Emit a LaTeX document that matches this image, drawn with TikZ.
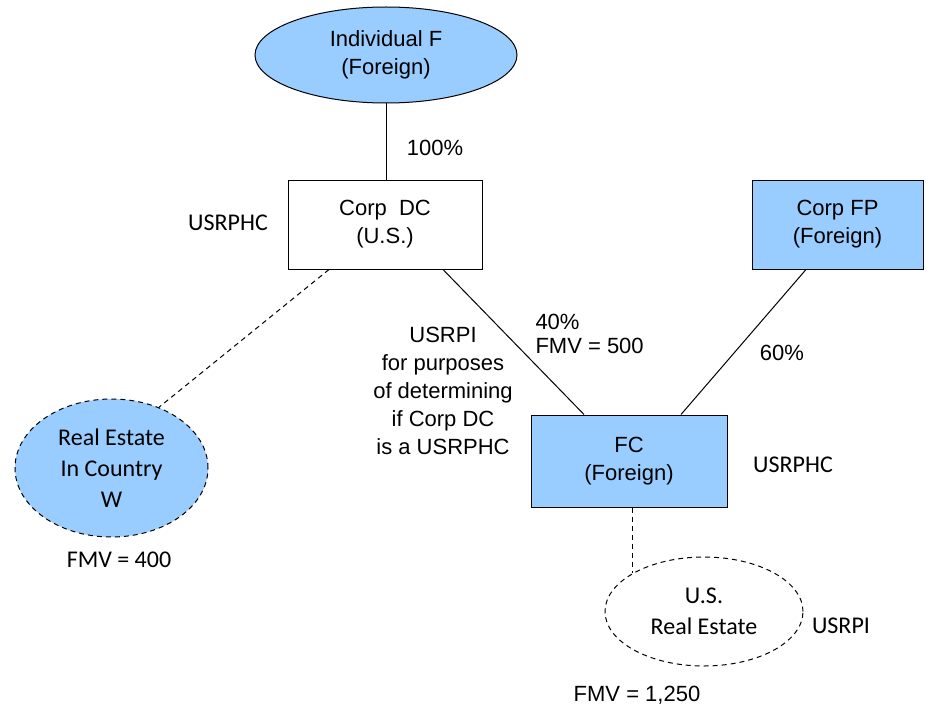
\documentclass[tikz,border=0pt]{standalone}
\usepackage{fontspec}
\setmainfont{Liberation Sans}
\newfontfamily\calibri{Carlito}
\usetikzlibrary{shapes.geometric}
\definecolor{ownblue}{RGB}{153,204,255}

\begin{document}
\begin{tikzpicture}[x=1pt, y=-1pt, line width=1pt, every node/.style={inner sep=0pt},
	font=\fontsize{22}{28}\selectfont,
	entity/.style={draw, rectangle, align=center},
	owner/.style={draw, ellipse, align=center},
	asset/.style={owner, dash pattern=on 5pt off 4pt, font=\calibri\fontsize{24}{31}\selectfont},
	calnote/.style={font=\calibri\fontsize{24}{31}\selectfont},
	holds/.style={dash pattern=on 5pt off 4pt}]
	\useasboundingbox (0,0) rectangle (926,706);
	\node[owner, fill=ownblue, minimum width=262pt, minimum height=96pt] (indf) at (386,55) {Individual F\\(Foreign)};
	\node[entity, minimum width=194pt, minimum height=89pt] (corpdc) at (385,224.5) {Corp\ \ DC\\(U.S.)};
	\node[entity, fill=ownblue, minimum width=171pt, minimum height=89pt] (corpfp) at (837.5,224.5) {Corp FP\\(Foreign)};
	\node[entity, fill=ownblue, minimum width=196pt, minimum height=92pt] (fc) at (629,461) {FC\\(Foreign)};
	\node[asset, fill=ownblue, minimum width=193pt, minimum height=138pt] (realw) at (111.5,468) {Real Estate\\In Country\\W};
	\node[asset, minimum width=198pt, minimum height=109pt] (usre) at (704,611.5) {U.S.\\Real Estate};
	% labels
	\node (pct100) at (435,148) {100\%};
	\node[calnote] (dcstatus) at (228,223) {USRPHC};
	\node[calnote] (fcstatus) at (793,465) {USRPHC};
	\node[calnote] (usrpi) at (841,626) {USRPI};
	\node[calnote] (fmvw) at (119,560) {FMV = 400};
	\node (fmvus) at (637,695) {FMV = 1,250};
	\node (pct60) at (782,353) {60\%};
	\node[align=left, anchor=west, font=\fontsize{22}{24}\selectfont] (pct40) at (535,334) {40\%\\FMV = 500};
	\node[align=center] (usrpinote) at (443,390.5) {USRPI\\for purposes\\of determining\\if Corp DC\\is a USRPHC};
	% ownership lines
	\draw (indf.south) -- (indf.south |- corpdc.north);
	\draw ([xshift=58pt]corpdc.south) -- ([xshift=-45pt]fc.north);
	\draw ([xshift=-31.5pt]corpfp.south) -- ([xshift=52pt]fc.north);
	\draw[holds] ([xshift=-56pt]corpdc.south) -- (realw.52);
	\draw[holds] (usre.152 |- fc.south) -- (usre.152);
\end{tikzpicture}
\end{document}
